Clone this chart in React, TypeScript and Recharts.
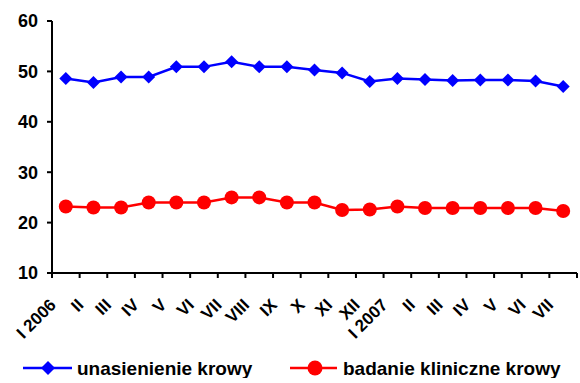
import { LineChart, Line, XAxis, YAxis, Legend } from 'recharts';

const BLUE = '#0000FF';
const RED = '#FF0000';
const FONT = '"Liberation Sans", Arial, sans-serif';

const MONTHS = [
  'I 2006', 'II', 'III', 'IV', 'V', 'VI', 'VII', 'VIII', 'IX', 'X', 'XI', 'XII',
  'I 2007', 'II', 'III', 'IV', 'V', 'VI', 'VII',
];
const INSEMINATION = [
  48.6, 47.8, 48.9, 48.9, 50.9, 50.9, 51.9, 50.9, 50.9, 50.3, 49.7, 48.0,
  48.6, 48.4, 48.2, 48.3, 48.3, 48.1, 47.0,
];
const EXAMINATION = [
  23.2, 23.0, 23.0, 24.0, 24.0, 24.0, 25.0, 25.0, 24.0, 24.0, 22.5, 22.6,
  23.2, 22.9, 22.9, 22.9, 22.9, 22.9, 22.3,
];
const Y_TICKS = [10, 20, 30, 40, 50, 60];
const SERIES = ['unasienienie krowy', 'badanie kliniczne krowy'];

// points sit in the middle of each month, tick marks on the month borders
const data = MONTHS.map((m, i) => ({
  x: i + 0.5,
  month: m,
  a: INSEMINATION[i],
  b: EXAMINATION[i],
}));
const xTicks = [...MONTHS.map((_, i) => i), MONTHS.length];

function Diamond({ cx, cy, size = 6.5, fill }: any) {
  if (cx == null || cy == null) return <g />;
  return (
    <polygon
      points={`${cx},${cy - size} ${cx + size},${cy} ${cx},${cy + size} ${cx - size},${cy}`}
      fill={fill}
    />
  );
}

function MonthTick({ x, y, payload }: any) {
  const label = MONTHS[payload.value];
  if (!label) return <g />;
  return (
    <g transform={`translate(${x + 5},${y + 26}) rotate(-45)`}>
      <text x={0} y={0} textAnchor="end" fontFamily={FONT} fontWeight="bold" fontSize={17} fill="#000">
        {label}
      </text>
    </g>
  );
}

function LegendContent() {
  return (
    <svg width={580} height={30} style={{ display: 'block', fontFamily: FONT }}>
      <line x1={23} y1={20} x2={72} y2={20} stroke={BLUE} strokeWidth={2.5} />
      <Diamond cx={48} cy={20} size={7} fill={BLUE} />
      <line x1={290} y1={20} x2={337} y2={20} stroke={RED} strokeWidth={2.5} />
      <circle cx={315} cy={20} r={7.5} fill={RED} />
      <text x={77} y={26.5} fontSize={19} fontWeight="bold" fill="#000">
        {SERIES[0]}
      </text>
      <text x={343} y={26.5} fontSize={19} fontWeight="bold" fill="#000">
        {SERIES[1]}
      </text>
    </svg>
  );
}

export default function App() {
  return (
    <div style={{ position: 'absolute', left: 0, top: 0, width: 580, height: 383, background: '#fff' }}>
      <LineChart
        width={580}
        height={383}
        data={data}
        margin={{ top: 21, right: 3, left: 0, bottom: 5 }}
      >
        <XAxis
          dataKey="x"
          type="number"
          domain={[0, MONTHS.length]}
          ticks={xTicks}
          interval={0}
          height={75}
          axisLine={{ stroke: '#000', strokeWidth: 2 }}
          tickLine={{ stroke: '#000', strokeWidth: 2 }}
          tickSize={5}
          tick={MonthTick}
        />
        <YAxis
          domain={[10, 60]}
          ticks={Y_TICKS}
          interval={0}
          width={52}
          axisLine={{ stroke: '#000', strokeWidth: 2 }}
          tickLine={{ stroke: '#000', strokeWidth: 2 }}
          tickSize={5}
          tickMargin={9}
          tick={{ fontSize: 18, fontWeight: 'bold', fill: '#000', fontFamily: FONT }}
        />
        <Legend
          verticalAlign="bottom"
          height={30}
          content={LegendContent}
          wrapperStyle={{ left: 0, width: 580, height: 30 }}
        />
        <Line
          dataKey="a"
          name={SERIES[0]}
          stroke={BLUE}
          strokeWidth={2.5}
          dot={<Diamond fill={BLUE} />}
          isAnimationActive={false}
        />
        <Line
          dataKey="b"
          name={SERIES[1]}
          stroke={RED}
          strokeWidth={2.5}
          dot={{ r: 7, fill: RED, stroke: RED, strokeWidth: 0 }}
          isAnimationActive={false}
        />
      </LineChart>
    </div>
  );
}
